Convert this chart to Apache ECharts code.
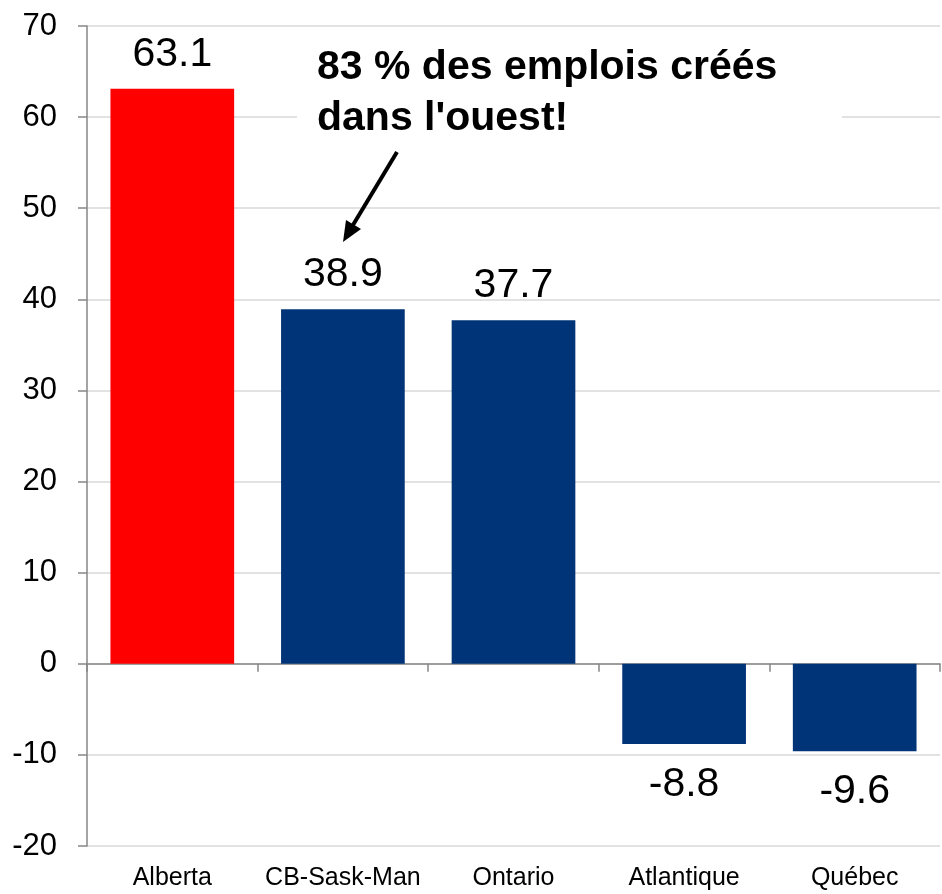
<!DOCTYPE html>
<html>
<head>
<meta charset="utf-8">
<script src="https://cdn.jsdelivr.net/npm/echarts@6/dist/echarts.min.js"></script>
<style>
html,body{margin:0;padding:0;background:#fff;}
#chart{width:942px;height:894px;}
</style>
</head>
<body>
<div id="chart"></div>
<script>
const categories = ['Alberta', 'CB-Sask-Man', 'Ontario', 'Atlantique', 'Québec'];
const values = [63.1, 38.9, 37.7, -8.8, -9.6];
const barColors = ['#FF0000', '#003478', '#003478', '#003478', '#003478'];
const yTicks = { min: -20, max: 70, interval: 10 };
const annotation = ["83 % des emplois créés", "dans l'ouest!"];

const FONT = '"Liberation Sans", Arial, sans-serif';
const chart = echarts.init(document.getElementById('chart'));

const data = values.map((v, i) => ({
  value: v,
  itemStyle: { color: barColors[i] },
  label: { position: v >= 0 ? 'top' : 'bottom', distance: v >= 0 ? 14 : 20 }
}));

chart.setOption({
  animation: false,
  grid: { left: 87, right: 2, top: 26, bottom: 48, containLabel: false },
  xAxis: [
    {
      type: 'category', data: categories, position: 'bottom',
      axisLine: { onZero: true, lineStyle: { color: '#868686', width: 1.5 } },
      axisTick: { show: true, length: 8, lineStyle: { color: '#868686', width: 1.5 } },
      axisLabel: { show: false }
    },
    {
      type: 'category', data: categories, position: 'bottom',
      axisLine: { show: false, onZero: false }, axisTick: { show: false },
      axisLabel: { show: true, interval: 0, hideOverlap: false, color: '#000',
        fontFamily: FONT, fontSize: 25, margin: 20 }
    }
  ],
  yAxis: {
    type: 'value', min: yTicks.min, max: yTicks.max, interval: yTicks.interval,
    axisLine: { show: true, lineStyle: { color: '#868686', width: 1.5 } },
    axisTick: { show: true, length: 9, lineStyle: { color: '#868686', width: 1.5 } },
    axisLabel: { color: '#000', fontFamily: FONT, fontSize: 31, margin: 30 },
    splitLine: { show: true, lineStyle: { color: '#d9d9d9', width: 1.5 } }
  },
  series: [{
    type: 'bar', xAxisIndex: 0, data: data, barWidth: '72.5%',
    label: { show: true, color: '#000', fontFamily: FONT, fontSize: 41,
      formatter: p => p.value.toFixed(1) }
  }],
  graphic: [
    { type: 'rect', shape: { x: 297, y: 36, width: 545, height: 100 }, style: { fill: '#fff' }, z: 50 },
    { type: 'text', x: 317, y: 42, z: 51,
      style: { text: annotation.join('\n'), fill: '#000', font: 'bold 41px ' + FONT, lineHeight: 51 } },
    { type: 'line', z: 51, shape: { x1: 397, y1: 152, x2: 353, y2: 225 },
      style: { stroke: '#000', lineWidth: 4 } },
    { type: 'polygon', z: 51, shape: { points: [[343, 242], [361, 229], [346, 220]] },
      style: { fill: '#000' } }
  ]
});
</script>
</body>
</html>
